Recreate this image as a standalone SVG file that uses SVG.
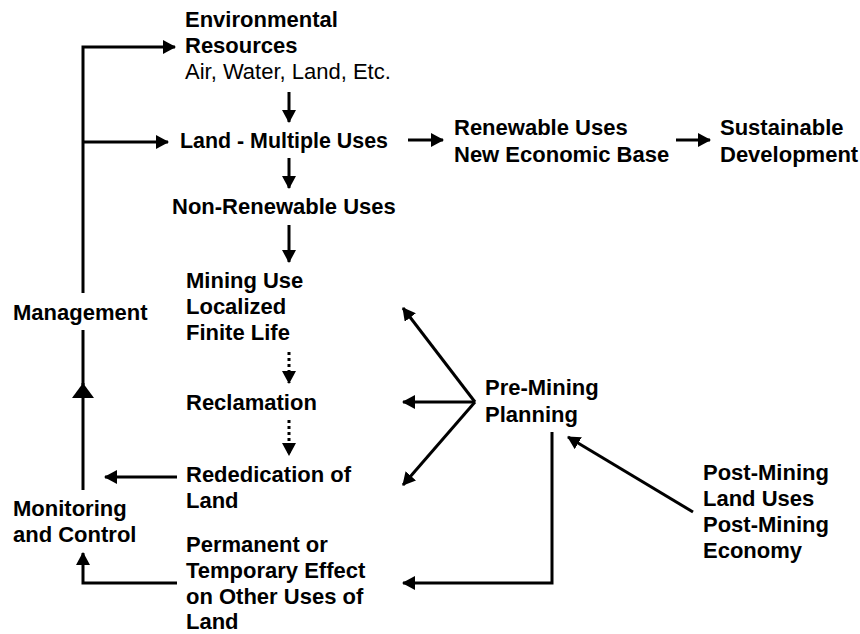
<svg xmlns="http://www.w3.org/2000/svg" width="860" height="634" viewBox="0 0 860 634">
<style>
text{font-family:"Liberation Sans",Arial,sans-serif;font-size:22px;font-weight:bold;fill:#000}
text.r{font-weight:normal}
.c{fill:none;stroke:#000;stroke-width:3}
.d{stroke-dasharray:3 3}
</style>
<defs>
<marker id="a" markerUnits="userSpaceOnUse" markerWidth="14" markerHeight="14" refX="12" refY="7" orient="auto">
<path d="M0,0 L13,7 L0,14 z" fill="#000"/>
</marker>
<marker id="b" markerUnits="userSpaceOnUse" markerWidth="16" markerHeight="22" refX="15" refY="11" orient="auto">
<path d="M0,0 L15,11 L0,22 z" fill="#000"/>
</marker>
</defs>
<rect width="860" height="634" fill="#fff"/>
<g id="connectors">
<path class="c" d="M83,293 V47 H175" marker-end="url(#a)"/>
<path class="c" d="M83,142 H168" marker-end="url(#a)"/>
<path class="c" d="M83,490 V383" marker-end="url(#b)"/>
<path class="c" d="M83,385 V330"/>
<path class="c" d="M289,92 V122" marker-end="url(#a)"/>
<path class="c" d="M289,158 V188" marker-end="url(#a)"/>
<path class="c" d="M289,225 V262" marker-end="url(#a)"/>
<path class="c d" d="M289,352 V383" marker-end="url(#a)"/>
<path class="c d" d="M289,420 V455" marker-end="url(#a)"/>
<path class="c" d="M408,140 H443" marker-end="url(#a)"/>
<path class="c" d="M676,140 H710" marker-end="url(#a)"/>
<path class="c" d="M177,477 H105" marker-end="url(#a)"/>
<path class="c" d="M177,583 H83 V553" marker-end="url(#a)"/>
<path class="c" d="M475,402 L403,308" marker-end="url(#a)"/>
<path class="c" d="M475,402 H403" marker-end="url(#a)"/>
<path class="c" d="M475,402 L403,485" marker-end="url(#a)"/>
<path class="c" d="M552,432 V583 H403" marker-end="url(#a)"/>
<path class="c" d="M693,512 L568,437" marker-end="url(#a)"/>
</g>
<g id="env"><text x="185" y="27">Environmental</text><text x="185" y="53">Resources</text><text class="r" x="185" y="79">Air, Water, Land, Etc.</text></g>
<g id="land"><text x="180" y="148" textLength="208" lengthAdjust="spacingAndGlyphs">Land - Multiple Uses</text></g>
<g id="renew"><text x="454" y="135">Renewable Uses</text><text x="454" y="162">New Economic Base</text></g>
<g id="sust"><text x="720" y="135">Sustainable</text><text x="720" y="162">Development</text></g>
<g id="nonrenew"><text x="172" y="214">Non-Renewable Uses</text></g>
<g id="mining"><text x="186" y="288">Mining  Use</text><text x="186" y="314">Localized</text><text x="186" y="340">Finite Life</text></g>
<g id="reclamation"><text x="186" y="410">Reclamation</text></g>
<g id="rededication"><text x="186" y="482">Rededication of</text><text x="186" y="508">Land</text></g>
<g id="permanent"><text x="186" y="552">Permanent or</text><text x="186" y="578">Temporary Effect</text><text x="186" y="604">on Other Uses of</text><text x="186" y="629">Land</text></g>
<g id="management"><text x="13" y="320">Management</text></g>
<g id="monitoring"><text x="13" y="516">Monitoring</text><text x="13" y="542">and Control</text></g>
<g id="premining"><text x="485" y="395">Pre-Mining</text><text x="485" y="422">Planning</text></g>
<g id="postmining"><text x="703" y="480">Post-Mining</text><text x="703" y="506">Land Uses</text><text x="703" y="532">Post-Mining</text><text x="703" y="558">Economy</text></g>
</svg>
